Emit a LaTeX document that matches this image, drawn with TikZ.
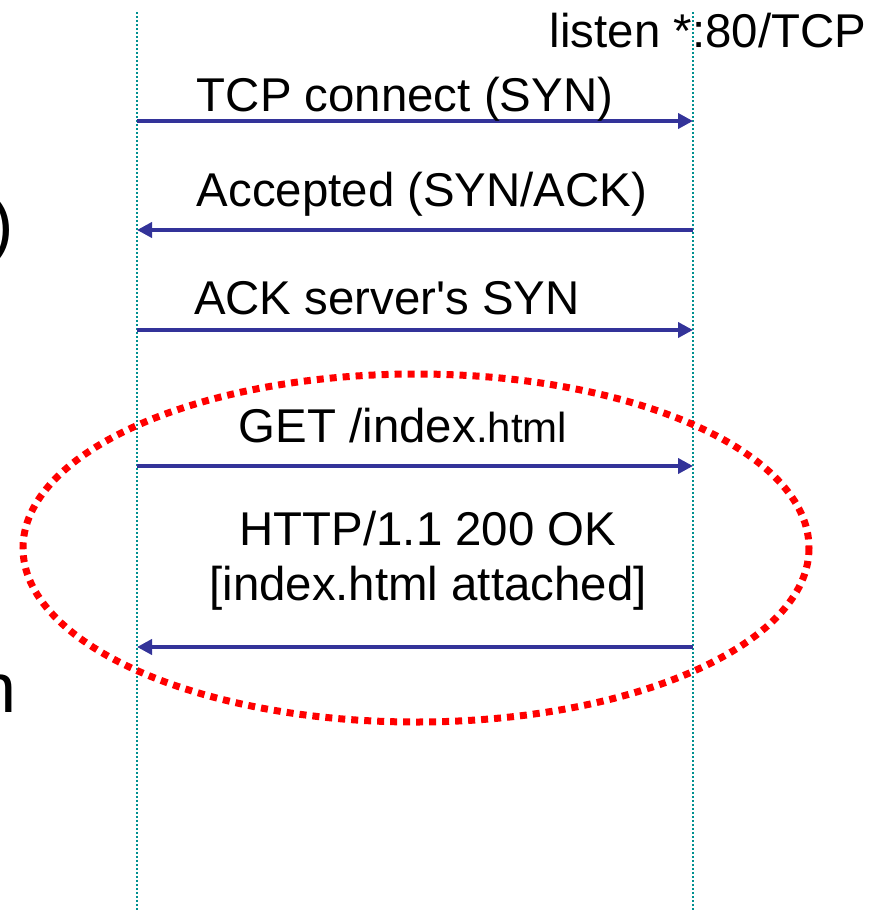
\documentclass[tikz,border=0pt]{standalone}
\usepackage{fontspec}
\setmainfont{Liberation Sans}
\usepackage{tikz}
\usetikzlibrary{arrows.meta}
\definecolor{MsgBlue}{HTML}{333399}
\definecolor{LifeTeal}{HTML}{009090}
\definecolor{RingRed}{HTML}{FF0000}

\begin{document}
\begin{tikzpicture}[x=0.5pt,y=-0.5pt,
    lifeline/.style={LifeTeal,line width=1pt,dash pattern=on 1pt off 1pt},
    msg/.style={-{Triangle[length=7.5pt,width=7.5pt]},MsgBlue,line width=2.3pt},
    ring/.style={RingRed,line width=3.5pt,dash pattern=on 3.5pt off 3pt},
    lbl/.style={inner sep=0,font=\fontsize{23.7}{27.5}\selectfont},
    cut/.style={inner sep=0,font=\fontsize{35}{40}\selectfont}]
		\useasboundingbox (0,0) rectangle (885,911);
		% lifelines: client left, server right
		\coordinate (cltop) at (137,12);
		\coordinate (clbot) at (137,911);
		\coordinate (svtop) at (693,12);
		\coordinate (svbot) at (693,911);
		\draw[lifeline] (cltop)--(clbot);
		\draw[lifeline] (svtop)--(svbot);
		\foreach \n/\y in {1/121,2/230,3/330,4/466,5/647}{
			\coordinate (c\n) at (137,\y);
			\coordinate (s\n) at (693,\y);
		}
		% text cut off at the left edge
		\node[cut,anchor=east] (cutparen) at (14,230) {)};
		\node[cut,anchor=base east] (cutn) at (17,712) {n};
		\node[lbl,anchor=base] (listen) at (708,47) {listen *:80/TCP};
		\draw[ring] (416,548) ellipse [x radius=393,y radius=174];
		\draw[msg] (c1)--(s1);
		\node[lbl,anchor=base] (syn) at (405,111) {TCP connect (SYN)};
		\draw[msg] (s2)--(c2);
		\node[lbl,anchor=base] (synack) at (422,206) {Accepted (SYN/ACK)};
		\draw[msg] (c3)--(s3);
		\node[lbl,anchor=base] (ack) at (387,314) {ACK server\textquotesingle s SYN};
		\draw[msg] (c4)--(s4);
		\node[lbl,anchor=base] (get) at (403,442) {GET /index{\fontsize{21}{25}\selectfont.html}};
		\draw[msg] (s5)--(c5);
		\node[lbl,align=center] (ok) at (428,561) {HTTP/1.1 200 OK\\{}[index.html attached]};
\end{tikzpicture}
\end{document}
